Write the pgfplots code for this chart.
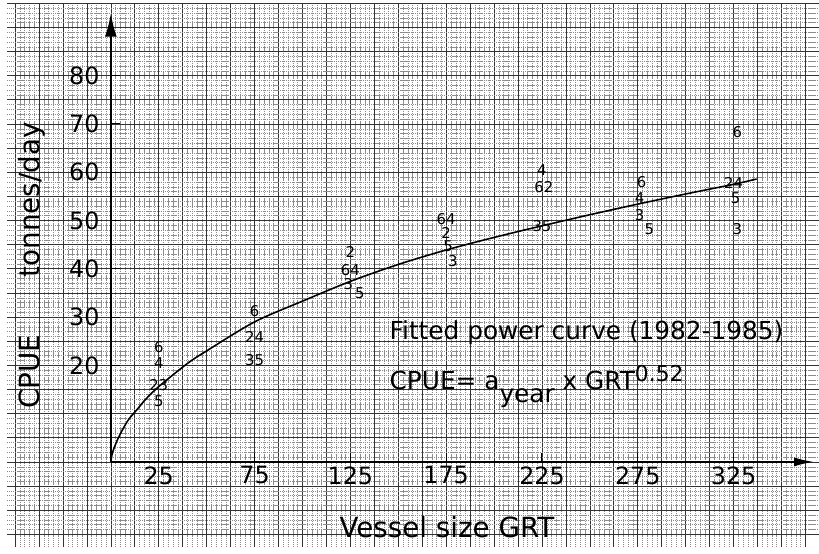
\documentclass[border=0pt]{standalone}
\usepackage{pgfplots}
\pgfplotsset{compat=1.18}
\usepackage{pgfplotstable}
\usepackage{fontspec}
\setmainfont{DejaVu Sans}
\usetikzlibrary{arrows.meta}

\pgfplotstableread{
x y lab
25 23.8 6
25 20.5 4
25 16.0 23
25 12.6 5
75 31.2 6
75 25.9 24
75 21.1 35
125 43.5 2
125 39.8 64
124 36.9 3
130 34.9 5
175 50.4 64
175 47.5 2
176 44.6 5
178.5 41.6 3
225 60.4 4
226 56.9 62
225 48.9 35
277 58.0 6
276 54.6 4
276 51.2 3
281 48.3 5
327 68.4 6
325 57.8 24
326 54.6 5
327 48.3 3
}\yeardata

\pgfplotstableread{
x y
0 0
0.6 1.5
1.6 2.8
3.6 4.7
6 6.6
9.3 8.8
14 11.0
18 12.9
25 15.6
40 20.4
50 23.0
75 29.0
100 33.3
125 37.4
150 40.9
175 43.9
200 46.5
225 48.9
250 51.2
275 53.4
300 55.5
325 57.5
337 58.6
}\curvedata

\begin{document}
\begin{tikzpicture}
% graph paper
\begin{axis}[
  scale only axis, width=819pt, height=549pt,
  xmin=-54.3, xmax=369.4, ymin=-17.66, ymax=95.07,
  axis line style={draw=none},
  xtick={-50,-37.5,...,362.5}, ytick={-15,-10,...,95},
  minor x tick num=4, minor y tick num=4,
  xticklabels={}, yticklabels={},
  major tick length=0pt, minor tick length=0pt,
  grid=both,
  major grid style={black!80, line width=0.7pt},
  minor grid style={black!45, line width=0.45pt, dash pattern=on 1.3pt off 0.8pt},
]
\addplot[draw=none] coordinates {(0,0)};
\end{axis}
% chart
\begin{axis}[
  scale only axis, width=819pt, height=549pt,
  xmin=-54.3, xmax=369.4, ymin=-17.66, ymax=95.07,
  axis lines=middle, axis line style={draw=none},
  clip=false,
  xtick={25,75,...,325}, ytick={20,30,...,80},
  tick align=inside, major tick length=9pt,
  tick style={black, line width=1pt},
  /pgf/number format/assume math mode=true,
  ticklabel style={font=\fontsize{24}{24}\selectfont},
  yticklabel style={xshift=-8pt},
  xticklabel style={yshift=-1pt},
]
\addplot[black, line width=2.2pt, -{Latex[length=24pt,width=12pt]}] coordinates {(0,0) (0,93)};
\addplot[black, line width=1.8pt, -{Latex[length=20pt,width=9pt]}] coordinates {(0,0) (367,0)};
\addplot[black, line width=1.6pt, smooth] table[x=x,y=y] {\curvedata};
\addplot[draw=none, mark=none, nodes near coords, point meta=explicit symbolic,
  nodes near coords style={anchor=center, inner sep=0pt, font=\fontsize{15}{15}\selectfont}]
  table[x=x,y=y,meta=lab] {\yeardata};
\node[anchor=west, inner sep=0pt, font=\fontsize{25}{25}\selectfont] at (axis cs:145.4,26.7) {Fitted power curve (1982-1985)};
\node[anchor=base west, inner sep=0pt, font=\fontsize{25}{25}\selectfont] at (axis cs:145.4,15.0) {CPUE= a\raisebox{-13pt}{year} x GRT\raisebox{8pt}{\fontsize{22}{22}\selectfont 0.52}};
\node[rotate=90, inner sep=0pt, font=\fontsize{28}{28}\selectfont] at (axis cs:-41.4,40.7) {CPUE\hspace{58pt}tonnes/day};
\node[inner sep=0pt, font=\fontsize{28}{28}\selectfont] at (axis cs:175.4,-13.6) {Vessel size GRT};
\end{axis}
\end{tikzpicture}
\end{document}
